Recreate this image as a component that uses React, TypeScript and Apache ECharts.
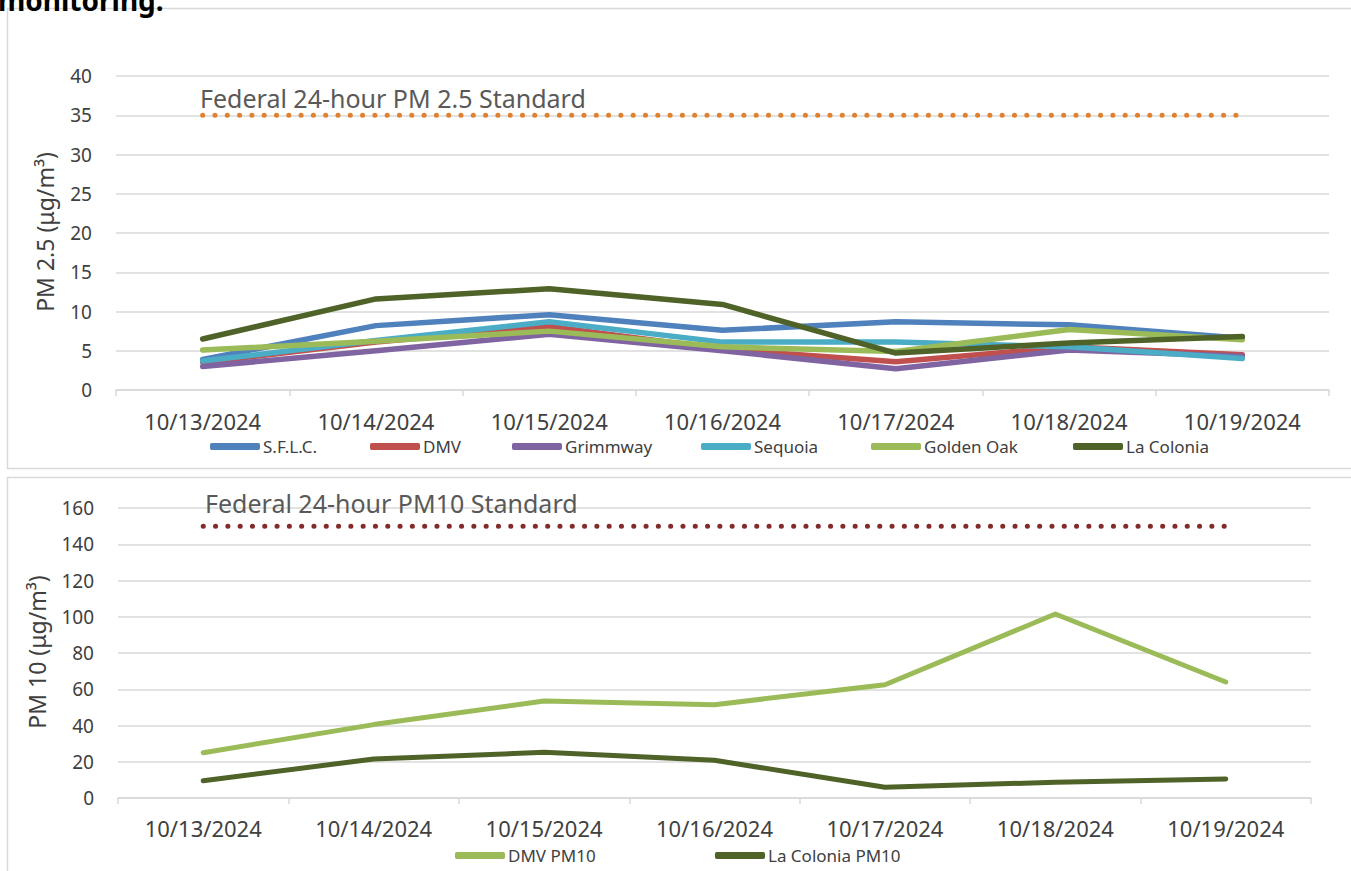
import React, { useEffect, useRef } from "react";
import * as echarts from "echarts";

const dates = ["10/13/2024", "10/14/2024", "10/15/2024", "10/16/2024", "10/17/2024", "10/18/2024", "10/19/2024"];

const sflc = [3.9, 8.2, 9.6, 7.6, 8.7, 8.3, 6.6];
const dmv = [3.5, 6.1, 8.1, 5.2, 3.6, 5.5, 4.5];
const grimmway = [3.0, 5.0, 7.1, 5.0, 2.7, 5.1, 4.3];
const sequoia = [3.7, 6.3, 8.7, 6.1, 6.1, 5.5, 4.0];
const goldenOak = [5.1, 6.2, 7.5, 5.5, 4.9, 7.7, 6.4];
const laColonia = [6.5, 11.6, 12.9, 10.9, 4.7, 6.0, 6.8];
const pm25Standard = [35, 35, 35, 35, 35, 35, 35];

const dmvPm10 = [25, 40.5, 53.5, 51.5, 62.5, 101.5, 64];
const laColoniaPm10 = [9.5, 21.5, 25.2, 20.8, 5.9, 8.7, 10.5];
const pm10Standard = [150, 150, 150, 150, 150, 150, 150];

const FONT = "'Noto Sans', 'Open Sans', sans-serif";
const GRID_COLOR = "#D9D9D9";
const TEXT_COLOR = "#404040";

export default function App() {
  const ref = useRef<HTMLDivElement>(null);

  useEffect(() => {
    if (!ref.current) return;
    const chart = echarts.init(ref.current, undefined, { renderer: "svg" });

    const xAxisBase = (gridIndex: number, margin: number) => ({
      type: "category",
      gridIndex,
      data: dates,
      boundaryGap: true,
      axisLine: { show: true, lineStyle: { color: GRID_COLOR, width: 1.5 } },
      axisTick: { show: true, length: 6, lineStyle: { color: GRID_COLOR, width: 1.5 } },
      axisLabel: { color: TEXT_COLOR, fontSize: 22, fontFamily: FONT, margin },
      splitLine: { show: false },
    });

    const yAxisBase = (gridIndex: number, max: number, interval: number) => ({
      type: "value",
      gridIndex,
      min: 0,
      max,
      interval,
      axisLine: { show: false },
      axisTick: { show: false },
      axisLabel: { color: TEXT_COLOR, fontSize: 19, fontFamily: FONT, margin: 24 },
      splitLine: { show: true, lineStyle: { color: GRID_COLOR, width: 1.5 } },
    });

    const lineSeries = (name: string, data: number[], color: string, idx: number, width: number) => ({
      type: "line",
      name,
      data,
      xAxisIndex: idx,
      yAxisIndex: idx,
      symbol: "none",
      lineStyle: { color, width, cap: "round", join: "round" },
      itemStyle: { color },
    });

    const dottedSeries = (name: string, data: number[], color: string, idx: number) => ({
      type: "line",
      name,
      data,
      xAxisIndex: idx,
      yAxisIndex: idx,
      symbol: "none",
      lineStyle: { color, width: 5, type: [0.1, 12.2], cap: "round" },
      itemStyle: { color },
      silent: true,
    });

    const legendItem = (name: string, left: number, top: number) => ({
      data: [name],
      left,
      top,
      padding: 0,
      icon: "roundRect",
      itemWidth: 50,
      itemHeight: 7,
      itemGap: 0,
      textStyle: { color: TEXT_COLOR, fontSize: 17, fontFamily: FONT, padding: [0, 0, 0, -2] },
    });

    chart.setOption({
      animation: false,
      backgroundColor: "#ffffff",
      grid: [
        { left: 116, right: 22, top: 76, height: 314, containLabel: false },
        { left: 118, right: 40, top: 508, height: 290, containLabel: false },
      ],
      xAxis: [xAxisBase(0, 20), xAxisBase(1, 19)],
      yAxis: [yAxisBase(0, 40, 5), yAxisBase(1, 160, 20)],
      legend: [
        legendItem("S.F.L.C.", 210, 438),
        legendItem("DMV", 370, 438),
        legendItem("Grimmway", 512, 438),
        legendItem("Sequoia", 701, 438),
        legendItem("Golden Oak", 871, 438),
        legendItem("La Colonia", 1073, 438),
        legendItem("DMV PM10", 455, 847),
        legendItem("La Colonia PM10", 715, 847),
      ],
      series: [
        dottedSeries("PM2.5 Standard", pm25Standard, "#E0812F", 0),
        lineSeries("S.F.L.C.", sflc, "#4F81BD", 0, 5.5),
        lineSeries("DMV", dmv, "#C0504D", 0, 5.5),
        lineSeries("Grimmway", grimmway, "#8064A2", 0, 5.5),
        lineSeries("Sequoia", sequoia, "#4BACC6", 0, 5.5),
        lineSeries("Golden Oak", goldenOak, "#9BBB59", 0, 5.5),
        lineSeries("La Colonia", laColonia, "#4F6228", 0, 5.5),
        dottedSeries("PM10 Standard", pm10Standard, "#832B2B", 1),
        lineSeries("DMV PM10", dmvPm10, "#9BBB59", 1, 5),
        lineSeries("La Colonia PM10", laColoniaPm10, "#4F6228", 1, 5),
      ],
      graphic: [
        {
          type: "rect",
          shape: { x: 7.5, y: 8.5, width: 1400, height: 460 },
          style: { fill: "none", stroke: GRID_COLOR, lineWidth: 1.5 },
          silent: true,
          z: -1,
        },
        {
          type: "rect",
          shape: { x: 7.5, y: 477.5, width: 1400, height: 420 },
          style: { fill: "none", stroke: GRID_COLOR, lineWidth: 1.5 },
          silent: true,
          z: -1,
        },
        {
          type: "text",
          x: -2,
          y: 0,
          style: {
            text: "monitoring.",
            fill: "#000000",
            fontSize: 28,
            fontWeight: "bold",
            fontFamily: FONT,
            verticalAlign: "middle",
            align: "left",
          },
        },
        {
          type: "text",
          x: 200,
          y: 98,
          style: {
            text: "Federal 24-hour PM 2.5 Standard",
            fill: "#595959",
            fontSize: 25,
            fontFamily: FONT,
            verticalAlign: "middle",
            align: "left",
          },
          z: 10,
        },
        {
          type: "text",
          x: 205,
          y: 503,
          style: {
            text: "Federal 24-hour PM10 Standard",
            fill: "#595959",
            fontSize: 25,
            fontFamily: FONT,
            verticalAlign: "middle",
            align: "left",
          },
          z: 10,
        },
        {
          type: "text",
          x: 45,
          y: 232,
          rotation: Math.PI / 2,
          style: {
            text: "PM 2.5 (μg/m³)",
            fill: TEXT_COLOR,
            fontSize: 23,
            fontFamily: FONT,
            verticalAlign: "middle",
            align: "center",
          },
        },
        {
          type: "text",
          x: 37,
          y: 652,
          rotation: Math.PI / 2,
          style: {
            text: "PM 10 (μg/m³)",
            fill: TEXT_COLOR,
            fontSize: 23,
            fontFamily: FONT,
            verticalAlign: "middle",
            align: "center",
          },
        },
      ],
    });

    return () => chart.dispose();
  }, []);

  return (
    <div
      ref={ref}
      style={{ position: "absolute", left: 0, top: 0, width: 1351, height: 871, background: "#fff" }}
    />
  );
}
